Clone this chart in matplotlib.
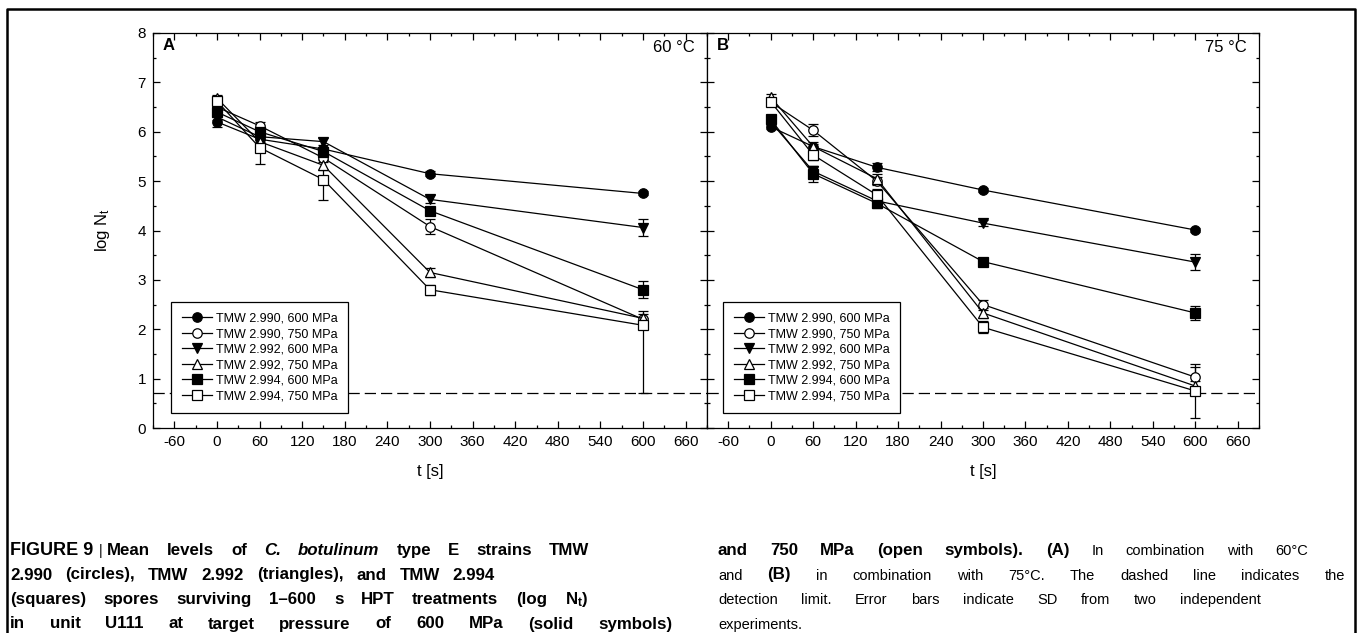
import matplotlib
matplotlib.use('Agg')
import matplotlib.pyplot as plt
from matplotlib import font_manager
from matplotlib.lines import Line2D
from matplotlib.ticker import MultipleLocator

plt.rcParams['font.family'] = ['Liberation Sans', 'DejaVu Sans']
plt.rcParams['axes.unicode_minus'] = False
plt.rcParams['mathtext.fontset'] = 'custom'
plt.rcParams['mathtext.rm'] = 'Liberation Sans'
plt.rcParams['mathtext.bf'] = 'Liberation Sans:bold'
plt.rcParams['mathtext.it'] = 'Liberation Sans:italic'

# ---------------- data ----------------
TIMES = [0, 60, 150, 300, 600]
LABELS = ['TMW 2.990, 600 MPa', 'TMW 2.990, 750 MPa', 'TMW 2.992, 600 MPa',
          'TMW 2.992, 750 MPa', 'TMW 2.994, 600 MPa', 'TMW 2.994, 750 MPa']
MARKERS = ['o', 'o', 'v', '^', 's', 's']
FILLED = [True, False, True, False, True, False]
DETECTION_LIMIT = 0.7

# Panel A, 60 °C
a_c600 = [6.20, 5.85, 5.65, 5.15, 4.75]
a_c750 = [6.50, 6.12, 5.47, 4.08, 2.20]
a_t600 = [6.30, 5.90, 5.80, 4.63, 4.06]
a_t750 = [6.68, 5.80, 5.32, 3.15, 2.22]
a_s600 = [6.40, 6.00, 5.60, 4.40, 2.80]
a_s750 = [6.62, 5.68, 5.03, 2.80, 2.08]
# SD (lower, upper)
a_c600_sd = [0.10, 0.06, 0.05, 0.05, 0.04]
a_c750_sd = [0.08, 0.08, 0.08, 0.16, 0.10]
a_t600_sd = [0.06, 0.06, 0.07, 0.08, 0.17]
a_t750_sd = [0.06, 0.07, 0.10, 0.09, 0.15]
a_s600_sd = [0.08, 0.07, 0.08, 0.08, 0.17]
a_s750_lo = [0.10, 0.33, 0.42, 0.10, 1.38]
a_s750_hi = [0.10, 0.33, 0.42, 0.10, 0.15]

# Panel B, 75 °C
b_c600 = [6.10, 5.70, 5.28, 4.82, 4.01]
b_c750 = [6.60, 6.03, 5.00, 2.50, 1.03]
b_t600 = [6.20, 5.20, 4.60, 4.15, 3.36]
b_t750 = [6.70, 5.70, 5.05, 2.33, 0.85]
b_s600 = [6.25, 5.15, 4.55, 3.37, 2.33]
b_s750 = [6.61, 5.53, 4.72, 2.04, 0.75]
b_c600_sd = [0.05, 0.06, 0.08, 0.04, 0.05]
b_c750_sd = [0.06, 0.12, 0.08, 0.10, 0.20]
b_t600_sd = [0.06, 0.10, 0.08, 0.06, 0.16]
b_t750_sd = [0.06, 0.10, 0.10, 0.10, 0.10]
b_s600_sd = [0.06, 0.16, 0.10, 0.06, 0.15]
b_s750_sd = [0.08, 0.10, 0.12, 0.12, 0.55]

# caption: (word, style) tokens per line, b=bold, i=italic, r=regular, L=label bold
CAP_LEFT = [
    [('FIGURE 9', 'L'), ('|', 'r'), ('Mean', 'b'), ('levels', 'b'), ('of', 'b'), ('C.', 'bi'),
     ('botulinum', 'bi'), ('type', 'b'), ('E', 'b'), ('strains', 'b'), ('TMW', 'b')],
    [('2.990', 'b'), ('(circles),', 'b'), ('TMW', 'b'), ('2.992', 'b'), ('(triangles),', 'b'),
     ('and', 'b'), ('TMW', 'b'), ('2.994', 'b')],
    [('(squares)', 'b'), ('spores', 'b'), ('surviving', 'b'), ('1\u2013600', 'b'), ('s', 'b'),
     ('HPT', 'b'), ('treatments', 'b'), ('(log', 'b'), (r'N$_\mathbf{t}$)', 'b')],
    [('in', 'b'), ('unit', 'b'), ('U111', 'b'), ('at', 'b'), ('target', 'b'), ('pressure', 'b'),
     ('of', 'b'), ('600', 'b'), ('MPa', 'b'), ('(solid', 'b'), ('symbols)', 'b')],
]
CAP_RIGHT = [
    [('and', 'b'), ('750', 'b'), ('MPa', 'b'), ('(open', 'b'), ('symbols).', 'b'), ('(A)', 'b'),
     ('In', 'r'), ('combination', 'r'), ('with', 'r'), ('60\u00b0C', 'r')],
    [('and', 'r'), ('(B)', 'b'), ('in', 'r'), ('combination', 'r'), ('with', 'r'), ('75\u00b0C.', 'r'),
     ('The', 'r'), ('dashed', 'r'), ('line', 'r'), ('indicates', 'r'), ('the', 'r')],
    [('detection', 'r'), ('limit.', 'r'), ('Error', 'r'), ('bars', 'r'), ('indicate', 'r'),
     ('SD', 'r'), ('from', 'r'), ('two', 'r'), ('independent', 'r')],
    [('experiments.', 'r')],
]
LEFT_ENDS = [589, 495, 588, 672]
RIGHT_ENDS = [1308, 1345, 1261, None]
CAP_BASELINES = [555, 579.5, 604, 628.5]

# condensed face for the regular caption text, if the system has it
try:
    font_manager.findfont('Liberation Sans Narrow', fallback_to_default=False)
    REG_FAMILY, REG_SIZE = 'Liberation Sans Narrow', 12.5
except ValueError:
    REG_FAMILY, REG_SIZE = 'Liberation Sans', 10.5
BOLD_SIZE = 12.2

# ---------------- figure ----------------
W, H = 1357, 633
fig = plt.figure(figsize=(W / 100, H / 100), dpi=100)


def px(x0, y0, x1, y1):
    return [x0 / W, 1 - y1 / H, (x1 - x0) / W, (y1 - y0) / H]


axA = fig.add_axes(px(153, 33, 707, 428))
axB = fig.add_axes(px(707, 33, 1259, 428))

lw = 0.9


def draw_panel(ax, means, errs, letter, temp, leg_x):
    for y, e, m, f in zip(means, errs, MARKERS, FILLED):
        ax.errorbar(TIMES, y, yerr=e, color='k', lw=lw, marker=m, ms=6.8,
                    mfc='k' if f else 'w', mec='k', mew=lw, capsize=3.6,
                    capthick=lw, elinewidth=lw)
    ax.axhline(DETECTION_LIMIT, color='k', lw=lw, dashes=(9, 4), zorder=1)

    ax.set_xlim(-90, 690)
    ax.set_ylim(0, 8)
    ax.xaxis.set_major_locator(MultipleLocator(60))
    ax.xaxis.set_minor_locator(MultipleLocator(30))
    ax.yaxis.set_major_locator(MultipleLocator(1))
    ax.yaxis.set_minor_locator(MultipleLocator(0.5))
    ax.tick_params(which='both', direction='in', top=True, right=True,
                   labelsize=11, width=lw)
    ax.tick_params(which='major', length=5, pad=5)
    ax.tick_params(which='minor', length=2.5)
    for sp in ax.spines.values():
        sp.set_linewidth(lw)

    ax.text(0.018, 0.988, letter, transform=ax.transAxes, fontsize=12,
            fontweight='bold', ha='left', va='top')
    ax.text(0.978, 0.982, temp, transform=ax.transAxes, fontsize=12,
            ha='right', va='top')
    ax.text(0.5, -0.111, 't [s]', transform=ax.transAxes, fontsize=12,
            ha='center', va='center')

    handles = [Line2D([], [], color='k', lw=lw, marker=m, ms=6.8,
                      mfc='k' if f else 'w', mec='k', mew=lw)
               for m, f in zip(MARKERS, FILLED)]
    leg = ax.legend(handles, LABELS, loc='lower left', bbox_to_anchor=(leg_x, 0.038),
                    borderaxespad=0, fontsize=9, handlelength=2.4,
                    handletextpad=0.35, labelspacing=0.28, borderpad=0.85,
                    fancybox=False, framealpha=1, edgecolor='k')
    leg.get_frame().set_linewidth(lw)


draw_panel(axA,
           [a_c600, a_c750, a_t600, a_t750, a_s600, a_s750],
           [a_c600_sd, a_c750_sd, a_t600_sd, a_t750_sd, a_s600_sd, [a_s750_lo, a_s750_hi]],
           'A', '60 \u00b0C', 0.0325)
draw_panel(axB,
           [b_c600, b_c750, b_t600, b_t750, b_s600, b_s750],
           [b_c600_sd, b_c750_sd, b_t600_sd, b_t750_sd, b_s600_sd, b_s750_sd],
           'B', '75 \u00b0C', 0.029)
axB.tick_params(labelleft=False)

fig.text(103 / W, 1 - 230 / H, r'log N$_\mathregular{t}$', rotation=90,
         fontsize=12, ha='center', va='center')

# outer frame
fig.add_artist(Line2D([7 / W, 7 / W, 1355 / W, 1355 / W], [0, 1 - 9 / H, 1 - 9 / H, 0],
                      transform=fig.transFigure, color='k', lw=1.8))

# caption, justified word by word
renderer = fig.canvas.get_renderer()


def put_line(tokens, x0, x1, ybase):
    texts = []
    for word, sty in tokens:
        if sty == 'L':
            kw = dict(fontsize=13, fontweight='bold')
        elif 'b' in sty:
            kw = dict(fontsize=BOLD_SIZE, fontweight='bold',
                      fontstyle='italic' if 'i' in sty else 'normal')
        else:
            kw = dict(fontsize=REG_SIZE, family=[REG_FAMILY, 'DejaVu Sans'])
        texts.append(fig.text(0, 1 - ybase / H, word, ha='left', va='baseline', **kw))
    widths = [t.get_window_extent(renderer).width for t in texts]
    # "FIGURE 9 | Mean" keeps tight spacing around the bar
    tight = [sty == 'L' or word == '|' for word, sty in tokens]
    n_loose = len(texts) - 1 - sum(tight)
    gap = 4.0
    if x1 is not None and n_loose > 0:
        gap = max(gap, (x1 - x0 - sum(widths) - 5 * sum(tight)) / n_loose)
    x = x0
    for t, w, tt in zip(texts, widths, tight):
        t.set_x(x / W)
        x += w + (5 if tt else gap)


for toks, end, yb in zip(CAP_LEFT, LEFT_ENDS, CAP_BASELINES):
    put_line(toks, 10, end, yb)
for toks, end, yb in zip(CAP_RIGHT, RIGHT_ENDS, CAP_BASELINES):
    put_line(toks, 718, end, yb)

fig.savefig('out.png', dpi=100)
